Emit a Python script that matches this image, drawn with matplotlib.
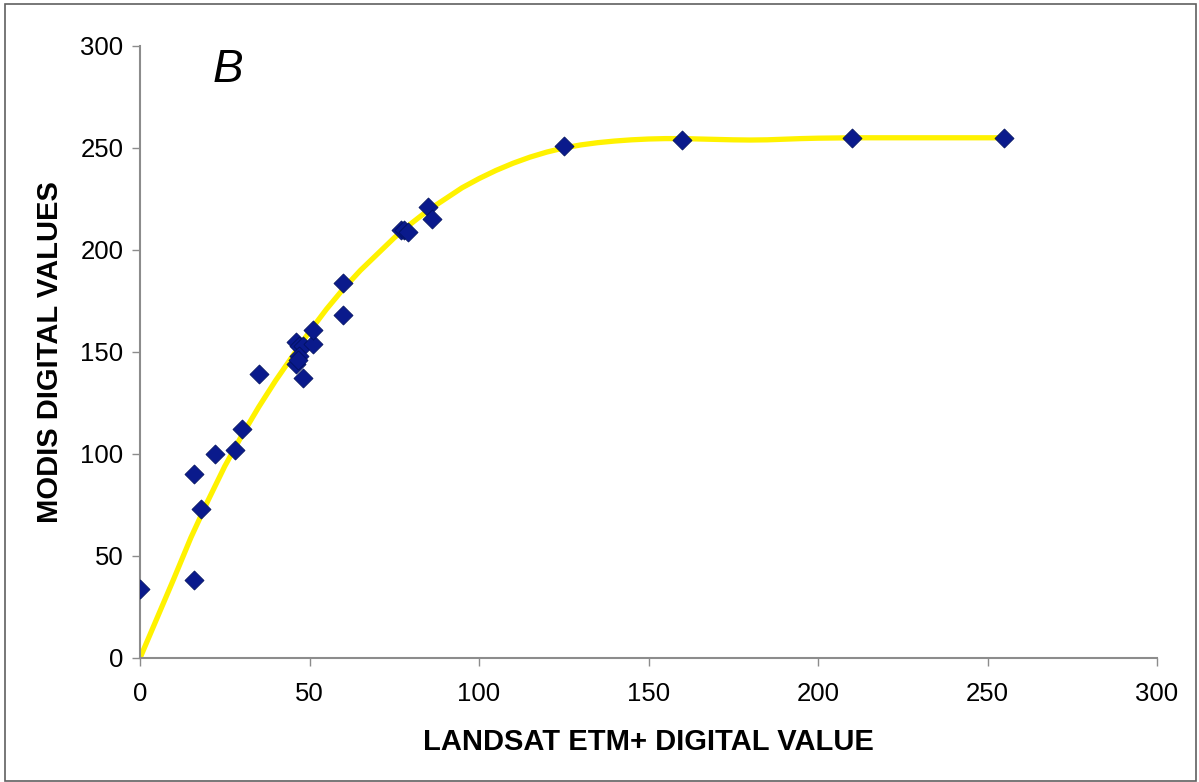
import matplotlib.pyplot as plt
from matplotlib.patches import Rectangle

# scatter of landsat vs modis values
landsat = [0, 16, 18, 16, 22, 28, 30, 35, 46, 47, 48, 51, 51, 47, 46, 46.5, 48,
           60, 60, 77, 78, 79, 85, 86, 125, 160, 210, 255]
modis = [34, 38, 73, 90, 100, 102, 112, 139, 155, 153, 153, 154, 161, 148, 144, 146, 137,
         184, 168, 210, 210, 209, 221, 215, 251, 254, 255, 255]

curve_x = [0, 5, 10, 15, 20, 25, 30, 35, 40, 45, 50, 55, 60, 65, 70, 75, 80, 85, 90, 95,
           100, 105, 110, 115, 120, 125, 130, 135, 140, 145, 150, 155, 160, 165, 170,
           175, 180, 185, 190, 195, 200, 210, 230, 255]
curve_y = [0, 19.5, 39, 59, 77, 94, 109, 123, 136, 148, 160, 171, 181, 190, 198, 206,
           213, 219.5, 225, 230.5, 235, 239, 242.5, 245.5, 248, 250, 251.5, 252.6, 253.4,
           254, 254.4, 254.6, 254.6, 254.4, 254.2, 254, 253.9, 254, 254.3, 254.6, 254.8,
           255, 255, 255]

xticks = [0, 50, 100, 150, 200, 250, 300]
yticks = [0, 50, 100, 150, 200, 250, 300]

plt.rcParams['font.family'] = ['Liberation Sans', 'DejaVu Sans']

fig = plt.figure(figsize=(11.99, 7.82), dpi=100)
ax = fig.add_axes([0.1168, 0.1586, 0.8482, 0.7826])

ax.plot(curve_x, curve_y, color='#FFF200', lw=3.8, solid_capstyle='round',
        solid_joinstyle='round', zorder=2)
ax.scatter(landsat, modis, marker='D', s=95, color='#0A1A8C', edgecolors='#00105A',
           linewidths=0.5, zorder=3)

ax.set_xlim(0, 300)
ax.set_ylim(0, 300)
ax.set_xticks(xticks)
ax.set_yticks(yticks)
ax.tick_params(labelsize=18.5, direction='out', length=6, width=1.0, color='#8C8C8C')
ax.tick_params(axis='x', pad=11)
ax.tick_params(axis='y', pad=6)
for s in ['top', 'right']:
    ax.spines[s].set_visible(False)
for s in ['left', 'bottom']:
    ax.spines[s].set_color('#8C8C8C')
    ax.spines[s].set_linewidth(1.5)

ax.set_xlabel('LANDSAT ETM+ DIGITAL VALUE', fontsize=21, fontweight='bold', labelpad=16)
ax.set_ylabel('MODIS DIGITAL VALUES', fontsize=21, fontweight='bold', labelpad=12)
ax.text(26, 288, 'B', fontsize=33, fontstyle='italic', ha='center', va='center')

fig.patches.append(Rectangle((5 / 1199, 1 / 782), 1191 / 1199, 777 / 782, transform=fig.transFigure,
                             fill=False, edgecolor='#606060', lw=1.2))

fig.savefig('out.png', dpi=100)
